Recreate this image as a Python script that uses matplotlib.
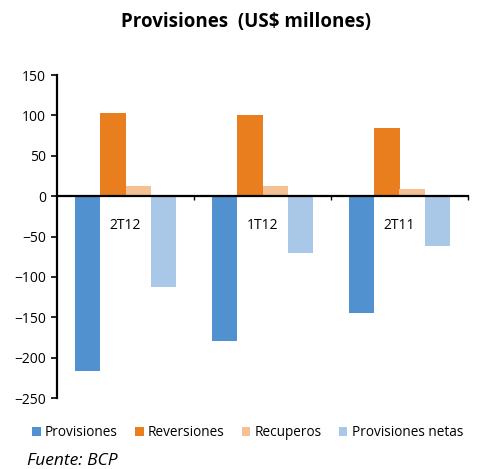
import numpy as np
import matplotlib.pyplot as plt

plt.rcParams['font.family'] = ['Open Sans', 'DejaVu Sans']

# datos
trimestres = ['2T12', '1T12', '2T11']
provisiones = [-216, -180, -145]
reversiones = [103, 101, 84]
recuperos = [12, 12, 9]
provisiones_netas = [-112, -70, -62]

series = ['Provisiones', 'Reversiones', 'Recuperos', 'Provisiones netas']
colores = ['#5291CF', '#E87E1E', '#F4C094', '#A9C8E8']
valores = [provisiones, reversiones, recuperos, provisiones_netas]

fig = plt.figure(figsize=(4.78, 4.69), dpi=100)
ax = fig.add_axes([57/478, 1-398/469, (468-57)/478, (398-75)/469])

x = np.arange(len(trimestres))
ancho = 0.185
for i, (nombre, col, val) in enumerate(zip(series, colores, valores)):
    ax.bar(x + (i - 1.5) * ancho, val, width=ancho, color=col, label=nombre)

ax.set_xlim(-0.5, 2.5)
ax.set_ylim(-250, 150)
ax.set_yticks(np.arange(-250, 151, 50))
ax.tick_params(axis='y', labelsize=10, length=4, width=1.2, pad=4)

# eje x en cero
ax.spines['bottom'].set_position(('data', 0))
ax.spines['bottom'].set_linewidth(1.6)
ax.spines['left'].set_linewidth(1.6)
ax.spines['top'].set_visible(False)
ax.spines['right'].set_visible(False)
ax.set_xticks([0.5, 1.5, 2.5])
ax.set_xticklabels([])
ax.tick_params(axis='x', length=3, width=1, direction='out')

for xi, t in zip(x, trimestres):
    ax.text(xi, -36, t, ha='center', va='center', fontsize=10)

fig.suptitle('Provisiones  (US$ millones)', fontsize=13.5, fontweight='bold',
             x=0.515, y=0.975)

fig.legend(loc='center left', bbox_to_anchor=(32/478, 1-433/469), ncol=4, frameon=False,
           fontsize=9.8, handlelength=0.65, handleheight=0.65, handletextpad=0.3,
           columnspacing=1.25, borderaxespad=0, borderpad=0)

fig.text(27/478, 1-461/469, 'Fuente: BCP', fontsize=12.5, style='italic', va='center')

fig.savefig('out.png', dpi=100)
